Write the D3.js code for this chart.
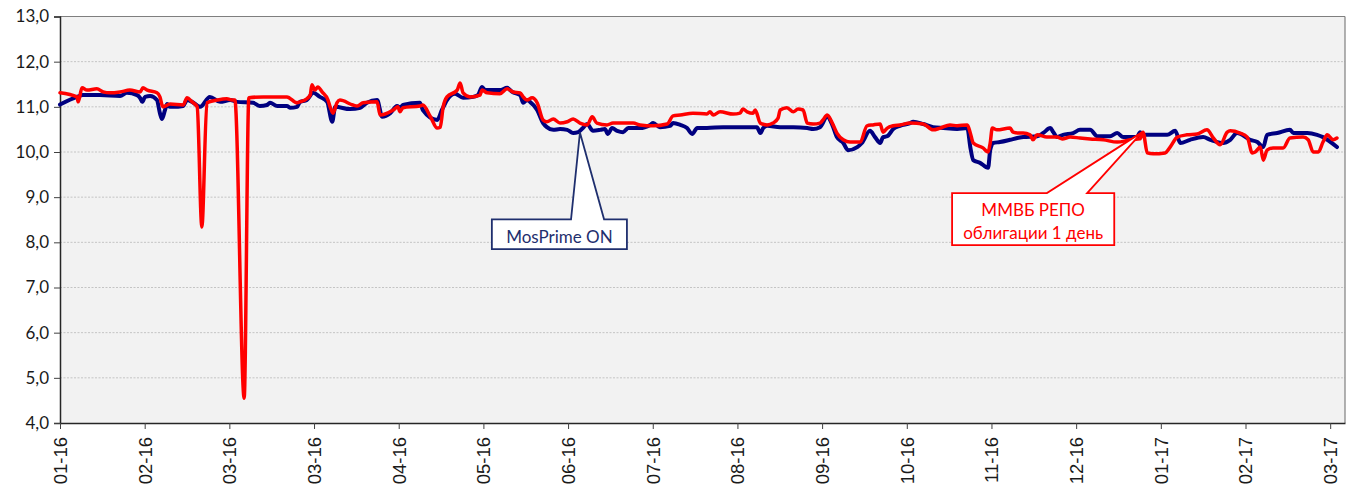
<!DOCTYPE html>
<html>
<head>
<meta charset="utf-8">
<script src="https://cdn.jsdelivr.net/npm/d3@7"></script>
<style>
  html, body { margin: 0; padding: 0; background: #ffffff; }
  svg { display: block; }
</style>
</head>
<body>
<svg id="chart" width="1351" height="493"></svg>
<script>
// ---------- DATA ----------
// x positions are trading-day indices (a tick every 20 days), values in %
const tickLabels = ["01-16","02-16","03-16","03-16","04-16","05-16","06-16","07-16",
                    "08-16","09-16","10-16","11-16","12-16","01-17","02-17","03-17"];
const tickDays = [0,20,40,60,80,100,120,140,160,180,200,220,240,260,280,300];
const yTicks = [4,5,6,7,8,9,10,11,12,13];

const mosDays = [0,4.0,5.4,9.4,14.2,15.8,18.2,18.9,19.4,20.1,21.3,22.9,23.6,24.1,24.8,25.3,26.0,26.7,29.1,30.0,31.2,33.1,35.4,37.8,40.2,41.8,45.6,47.2,48.9,49.6,51.3,53.6,54.3,56.0,56.7,58.3,59.8,61.4,63.1,64.3,65.0,68.5,70.9,72.5,74.9,76.1,78.0,79.6,80.3,81.0,85.0,85.7,89.1,90.2,91.4,93.3,95.2,97.6,98.7,99.7,100.4,103.9,105.6,106.8,108.7,109.4,110.3,111.0,112.7,114.1,115.0,116.5,118.1,119.8,121.2,122.4,123.5,124.5,125.9,127.6,128.7,129.4,130.4,131.6,133.0,134.2,137.0,139.4,140.1,141.7,144.1,144.8,146.5,148.1,149.3,150.5,152.8,156.6,160.6,164.6,165.4,166.1,167.0,170.1,173.2,176.5,177.9,179.5,181.2,182.4,183.5,185.0,186.1,188.3,189.4,191.3,192.5,193.7,194.4,195.4,196.8,198.4,200.8,201.5,203.9,206.2,208.6,211.9,214.3,215.0,215.7,217.3,219.2,219.7,220.4,222.0,224.4,226.1,227.5,230.8,232.2,233.9,234.6,235.5,236.9,239.3,240.9,243.3,245.0,248.0,249.7,251.1,254.4,255.1,255.8,261.5,263.4,264.6,266.9,270.0,271.7,274.7,276.4,278.0,281.1,282.8,284.2,285.1,287.5,290.5,291.3,294.6,296.9,298.3,301.6];
const mosValues = [11.05,11.22,11.26,11.26,11.24,11.31,11.26,11.20,11.11,11.22,11.24,11.15,10.86,10.73,10.93,11.06,11.00,11.00,11.02,11.15,11.11,11.00,11.22,11.11,11.15,11.11,11.09,11.02,11.04,11.09,11.02,11.02,10.98,11.00,11.11,11.15,11.31,11.22,11.11,10.67,11.00,10.95,10.98,11.09,11.15,10.78,10.86,11.02,10.98,11.04,11.09,10.93,10.71,10.93,11.15,11.29,11.20,11.22,11.26,11.44,11.37,11.37,11.42,11.33,11.26,11.09,11.15,11.11,10.93,10.64,10.55,10.49,10.51,10.49,10.42,10.44,10.53,10.62,10.47,10.49,10.51,10.40,10.53,10.47,10.44,10.53,10.53,10.60,10.64,10.55,10.58,10.64,10.60,10.53,10.40,10.53,10.53,10.55,10.55,10.55,10.42,10.53,10.58,10.55,10.55,10.53,10.51,10.55,10.78,10.60,10.33,10.20,10.04,10.11,10.20,10.47,10.33,10.20,10.33,10.35,10.51,10.58,10.64,10.67,10.62,10.55,10.53,10.51,10.53,10.11,9.82,9.76,9.65,10.04,10.20,10.22,10.27,10.31,10.33,10.35,10.42,10.53,10.44,10.33,10.38,10.42,10.49,10.49,10.35,10.35,10.42,10.33,10.33,10.44,10.38,10.38,10.47,10.20,10.27,10.33,10.27,10.20,10.27,10.42,10.27,10.22,10.11,10.38,10.42,10.49,10.42,10.42,10.38,10.33,10.11];

const repoDays = [0,4.0,4.3,5.2,6.4,8.7,10.2,11.8,14.2,16.5,18.9,19.6,20.6,22.9,23.6,24.3,26.0,29.1,30.0,31.2,32.4,33.5,34.7,37.1,39.4,40.6,41.3,43.5,44.6,48.0,53.6,56.0,56.7,58.3,59.1,59.5,60.2,60.9,61.9,63.3,63.8,64.5,65.4,66.1,69.2,70.2,71.6,74.9,75.6,78.7,79.8,80.3,81.0,85.0,85.7,87.5,89.1,89.8,90.5,91.4,93.8,94.5,95.2,96.9,99.2,99.7,100.9,103.9,105.6,107.0,108.7,109.4,110.3,111.5,112.7,114.1,115.0,116.5,118.1,119.8,121.2,122.8,124.5,125.7,126.8,129.2,130.6,133.9,135.4,137.0,140.1,143.4,144.8,146.5,149.5,152.8,153.5,154.3,155.9,159.0,160.6,161.3,162.3,163.7,164.2,165.4,167.0,168.4,169.6,170.1,171.7,173.2,174.3,175.5,176.5,177.9,179.5,180.2,181.2,182.4,183.5,185.0,186.6,189.0,190.6,192.0,193.7,194.4,195.4,196.8,198.4,200.8,203.9,206.2,207.9,210.2,211.9,214.3,215.0,215.7,218.0,219.2,219.7,220.2,221.3,224.4,225.1,226.3,227.5,229.1,229.8,230.8,233.1,235.5,236.7,238.6,240.9,243.3,246.4,249.7,252.8,255.1,255.8,256.8,258.2,261.0,262.2,263.9,266.2,268.6,270.9,272.4,274.0,275.7,276.4,278.7,280.4,281.6,282.3,283.5,284.2,285.1,286.5,288.9,290.5,293.6,294.8,296.0,297.2,298.3,299.3,300.7,301.6];
const repoValues = [11.31,11.22,11.11,11.42,11.37,11.40,11.33,11.31,11.33,11.37,11.33,11.42,11.37,11.31,11.22,11.00,11.06,11.04,11.20,11.11,11.00,8.34,11.09,11.15,11.18,11.15,11.15,4.55,11.20,11.22,11.22,11.09,11.11,11.18,11.26,11.49,11.37,11.44,11.33,11.15,11.00,10.86,11.09,11.15,11.04,11.02,11.09,11.11,10.82,10.93,11.00,10.89,10.98,11.02,11.04,10.78,10.53,10.55,11.00,11.22,11.37,11.53,11.31,11.22,11.26,11.37,11.31,11.29,11.40,11.33,11.31,11.22,11.15,11.20,11.09,10.71,10.67,10.73,10.64,10.67,10.73,10.64,10.60,10.78,10.64,10.60,10.64,10.64,10.64,10.60,10.58,10.62,10.80,10.82,10.86,10.84,10.89,10.82,10.89,10.84,10.86,10.95,10.89,10.86,10.93,10.64,10.60,10.64,10.75,10.93,10.98,10.89,10.95,10.93,10.64,10.62,10.64,10.71,10.82,10.64,10.42,10.27,10.22,10.22,10.58,10.60,10.62,10.44,10.53,10.58,10.60,10.64,10.62,10.49,10.53,10.60,10.58,10.60,10.42,10.20,10.09,10.00,10.20,10.53,10.49,10.53,10.44,10.42,10.42,10.38,10.27,10.38,10.33,10.33,10.29,10.33,10.31,10.29,10.27,10.22,10.27,10.29,10.44,9.98,9.96,9.98,10.11,10.33,10.38,10.40,10.49,10.31,10.16,10.44,10.47,10.42,10.33,9.98,10.00,10.11,9.82,10.04,10.09,10.09,10.31,10.33,10.27,10.00,10.00,10.22,10.38,10.27,10.31];

// callout labels
const mosLabel = ["MosPrime ON"];
const repoLabel = ["ММВБ РЕПО", "облигации 1 день"];

// ---------- LAYOUT ----------
const svg = d3.select("#chart");
const plot = { left: 60, top: 16.5, right: 1345, bottom: 423 };

const x = d3.scaleLinear().domain([0, 303.5]).range([plot.left, plot.right]);
const y = d3.scaleLinear().domain([4, 13]).range([plot.bottom, plot.top]);

// background
svg.append("rect")
  .attr("x", plot.left).attr("y", plot.top)
  .attr("width", plot.right - plot.left).attr("height", plot.bottom - plot.top)
  .attr("fill", "#f2f2f2");

// gridlines
svg.append("g").selectAll("line").data(yTicks.filter(d => d > 4 && d < 13)).join("line")
  .attr("x1", plot.left).attr("x2", plot.right)
  .attr("y1", d => y(d)).attr("y2", d => y(d))
  .attr("stroke", "#c4c4c4").attr("stroke-width", 1)
  .attr("stroke-dasharray", "2,1.5");

// top and right border
svg.append("line").attr("x1", plot.left).attr("x2", plot.right)
  .attr("y1", plot.top).attr("y2", plot.top).attr("stroke", "#7f7f7f").attr("stroke-width", 1.2);
svg.append("line").attr("x1", plot.right).attr("x2", plot.right)
  .attr("y1", plot.top).attr("y2", plot.bottom).attr("stroke", "#7f7f7f").attr("stroke-width", 1.2);

// y axis
const fmt = d => d3.format(".1f")(d).replace(".", ",");
const yAxis = svg.append("g").attr("transform", `translate(${plot.left},0)`)
  .call(d3.axisLeft(y).tickValues(yTicks).tickFormat(fmt).tickSize(6).tickPadding(5));
yAxis.select(".domain").attr("stroke", "#262626").attr("stroke-width", 1.5);
yAxis.selectAll(".tick line").attr("stroke", "#404040");
yAxis.selectAll("text").attr("font-family", "Lato, 'Open Sans', sans-serif")
  .attr("font-size", 17).attr("fill", "#1a1a1a");

// x axis
const xAxis = svg.append("g").attr("transform", `translate(0,${plot.bottom})`)
  .call(d3.axisBottom(x).tickValues(tickDays).tickFormat((d, i) => tickLabels[i]).tickSize(6).tickSizeOuter(0));
xAxis.select(".domain").attr("stroke", "#262626").attr("stroke-width", 1.5);
xAxis.selectAll(".tick line").attr("stroke", "#404040");
xAxis.selectAll("text")
  .attr("font-family", "'Liberation Sans', Arial, sans-serif")
  .attr("font-size", 18.5).attr("fill", "#1a1a1a")
  .attr("text-anchor", "end")
  .attr("transform", "rotate(-90)")
  .attr("x", -14).attr("y", 0).attr("dy", "0.35em");

// lines
const mosData = mosDays.map((d, i) => [d, mosValues[i]]);
const repoData = repoDays.map((d, i) => [d, repoValues[i]]);
const line = d3.line().x(d => x(d[0])).y(d => y(d[1])).curve(d3.curveMonotoneX);

svg.append("path").datum(mosData).attr("d", line)
  .attr("fill", "none").attr("stroke", "#000080").attr("stroke-width", 4)
  .attr("stroke-linejoin", "round").attr("stroke-linecap", "round");
svg.append("path").datum(repoData).attr("d", line)
  .attr("fill", "none").attr("stroke", "#ff0000").attr("stroke-width", 3.5)
  .attr("stroke-linejoin", "round").attr("stroke-linecap", "round");

// callouts
function callout(box, base1, base2, tip, color, lines, baselines) {
  const x0 = x(box.d0), x1 = x(box.d1), y0 = y(box.vTop), y1 = y(box.vBottom);
  const p = d3.path();
  p.moveTo(x0, y0);
  p.lineTo(x(base1), y0);
  p.lineTo(x(tip[0]), y(tip[1]));
  p.lineTo(x(base2), y0);
  p.lineTo(x1, y0);
  p.lineTo(x1, y1);
  p.lineTo(x0, y1);
  p.closePath();
  svg.append("path").attr("d", p.toString())
    .attr("fill", "#ffffff").attr("stroke", color).attr("stroke-width", 1.8)
    .attr("stroke-linejoin", "miter");
  const cx = (x0 + x1) / 2;
  lines.forEach((t, i) => {
    svg.append("text").attr("x", cx).attr("y", y0 + baselines[i])
      .attr("text-anchor", "middle")
      .attr("font-family", "Lato, 'Open Sans', sans-serif")
      .attr("font-size", 17).attr("fill", color).text(t);
  });
}

callout({ d0: 102.0, d1: 133.9, vTop: 8.51, vBottom: 7.85 }, 120.7, 128.5, [122.8, 10.43],
        "#1f2f6e", mosLabel, [23.5]);
callout({ d0: 210.7, d1: 249.0, vTop: 9.09, vBottom: 7.94 }, 233.1, 242.6, [255.6, 10.44],
        "#ff0000", repoLabel, [22.5, 45.5]);
</script>
</body>
</html>
